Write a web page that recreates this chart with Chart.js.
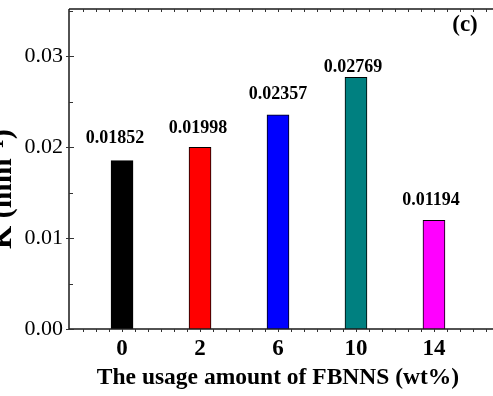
<!DOCTYPE html>
<html>
<head>
<meta charset="utf-8">
<script src="https://cdn.jsdelivr.net/npm/chart.js@4/dist/chart.umd.min.js"></script>
<style>
  html, body { margin: 0; padding: 0; overflow: hidden; background: #fff; }
  #wrap { position: absolute; left: -14px; top: 0; width: 520px; height: 396px; }
</style>
</head>
<body>
<div id="wrap"><canvas id="kChart"></canvas></div>
<script>
const categories = ['0', '2', '6', '10', '14'];
const kValues = [0.01852, 0.01998, 0.02357, 0.02769, 0.01194];
const barColors = ['#000000', '#ff0000', '#0000ff', '#008080', '#ff00ff'];
const yTicks = [0, 0.01, 0.02, 0.03];

const serif = "'Liberation Serif', 'Times New Roman', serif";

// label nudges (px) so the value texts sit like in the figure
const labelDx = [-7, -2, 0, -3, -3];
const labelDy = [22, 19, 20, 10, 20];

const valueLabels = {
    id: 'valueLabels',
    afterDatasetsDraw(chart) {
        const ctx = chart.ctx;
        const bars = chart.getDatasetMeta(0).data;
        ctx.save();
        ctx.font = 'bold 18px ' + serif;
        ctx.fillStyle = '#000';
        ctx.textAlign = 'center';
        ctx.textBaseline = 'middle';
        bars.forEach((bar, i) => {
            ctx.fillText(kValues[i].toFixed(5), bar.x + labelDx[i], bar.y - labelDy[i]);
        });
        ctx.restore();
    }
};

const frame = {
    id: 'frame',
    afterDraw(chart) {
        const {ctx, chartArea: a, scales: {x, y}} = chart;
        ctx.save();
        ctx.strokeStyle = '#1a1a1a';
        ctx.lineWidth = 1.5;
        ctx.beginPath();
        ctx.moveTo(a.left, a.top); ctx.lineTo(chart.width, a.top);
        ctx.moveTo(a.left, a.top); ctx.lineTo(a.left, a.bottom);
        ctx.moveTo(a.left, a.bottom); ctx.lineTo(chart.width, a.bottom);
        ctx.stroke();

        ctx.lineWidth = 1;
        ctx.strokeStyle = '#333';
        ctx.beginPath();
        for (let k = Math.ceil(x.min * 6); ; k++) {
            const px = Math.round(x.getPixelForValue(k / 6)) + 0.5;
            if (px > chart.width) break;
            if (px <= a.left + 2) continue;
            ctx.moveTo(px, a.top); ctx.lineTo(px, a.top + 3);
            ctx.moveTo(px, a.bottom); ctx.lineTo(px, a.bottom + 3);
        }
        yTicks.forEach(v => {
            const py = Math.round(y.getPixelForValue(v)) + 0.5;
            ctx.moveTo(a.left - 3, py); ctx.lineTo(a.left + 5, py);
            const pm = Math.round(y.getPixelForValue(v + 0.005)) + 0.5;
            ctx.moveTo(a.left, pm); ctx.lineTo(a.left + 4, pm);
        });
        ctx.stroke();

        ctx.fillStyle = '#000';
        ctx.font = 'bold 23px ' + serif;
        ctx.textAlign = 'center';
        ctx.textBaseline = 'middle';
        ctx.fillText('(c)', a.right - 22, a.top + 16);

        // y title, mostly cut off by the left edge like in the figure
        ctx.translate(a.left - 58, a.bottom - 80);
        ctx.rotate(-Math.PI / 2);
        ctx.font = 'bold 30px ' + serif;
        ctx.textAlign = 'left';
        ctx.textBaseline = 'alphabetic';
        ctx.fillText('K (mm⁻¹)', 0, 0);
        ctx.restore();
    }
};

new Chart(document.getElementById('kChart'), {
    type: 'bar',
    data: {
        datasets: [
            {
                data: categories.map((c, i) => ({x: i, y: kValues[i]})),
                backgroundColor: barColors,
                borderColor: '#000',
                borderWidth: 1,
                barThickness: 22,
            }
        ]
    },
    plugins: [valueLabels, frame],
    options: {
        responsive: true,
        maintainAspectRatio: false,
        devicePixelRatio: 1,
        animation: false,
        layout: { padding: { top: 9, right: 19, left: 0, bottom: 0 } },
        plugins: {
            legend: { display: false },
            tooltip: { enabled: false }
        },
        scales: {
            x: {
                type: 'linear',
                offset: false,
                min: -0.68,
                max: 4.68,
                afterBuildTicks: s => { s.ticks = categories.map((c, i) => ({value: i})); },
                afterFit: s => { s.height = 67; s.paddingLeft = 0; s.paddingRight = 0; },
                grid: { display: false, drawTicks: false },
                border: { display: false },
                ticks: {
                    callback: v => categories[v],
                    color: '#000',
                    font: { family: serif, size: 23, weight: 'bold' },
                    padding: 6,
                    maxRotation: 0,
                    autoSkip: false
                },
                title: {
                    display: true,
                    text: 'The usage amount of FBNNS (wt%)',
                    color: '#000',
                    font: { family: serif, size: 23.5, weight: 'bold' },
                    padding: { top: 0, bottom: 4 }
                }
            },
            y: {
                min: 0,
                max: 0.0352,
                afterBuildTicks: s => { s.ticks = yTicks.map(v => ({value: v})); },
                afterFit: s => { s.width = 83; s.paddingTop = 0; s.paddingBottom = 0; },
                grid: { display: false, drawTicks: false },
                border: { display: false },
                ticks: {
                    callback: v => v.toFixed(2),
                    color: '#000',
                    font: { family: serif, size: 22 },
                    padding: 6
                },
                title: { display: false }
            }
        }
    }
});
</script>
</body>
</html>
